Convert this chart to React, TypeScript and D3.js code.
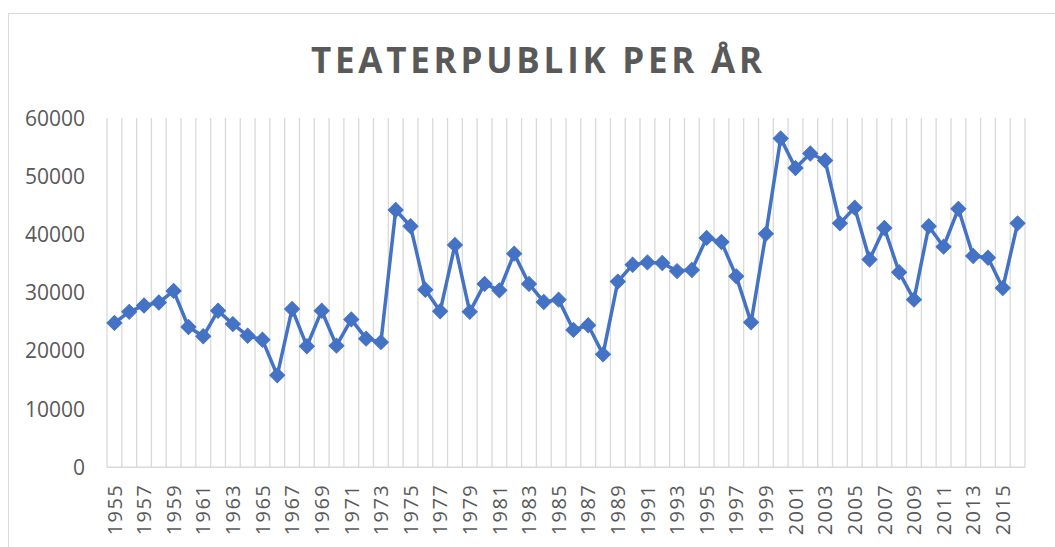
import React from "react";
import * as d3 from "d3";

const years: number[] = d3.range(1955, 2017);
const visitors: number[] = [
  24800, 26700, 27800, 28300, 30300, 24100, 22500, 26900, 24600, 22600,
  21900, 15800, 27200, 20800, 26900, 20900, 25400, 22100, 21500, 44200,
  41400, 30500, 26800, 38200, 26700, 31500, 30400, 36700, 31500, 28400,
  28800, 23600, 24400, 19400, 31900, 34800, 35200, 35100, 33700, 33900,
  39400, 38700, 32800, 24900, 40100, 56500, 51400, 53900, 52700, 41900,
  44600, 35700, 41100, 33500, 28800, 41400, 37900, 44400, 36300, 36000,
  30800, 41900,
];
const yTicks: number[] = [0, 10000, 20000, 30000, 40000, 50000, 60000];
const title = "TEATERPUBLIK PER ÅR";

export default function App() {
  const W = 1055;
  const H = 547;
  const left = 107;
  const right = 1025;
  const top = 118;
  const bottom = 467.3;

  const x = d3.scaleBand<number>().domain(years).range([left, right]).padding(0);
  const y = d3.scaleLinear().domain([0, 60000]).range([bottom, top]);
  const cx = (yr: number) => (x(yr) as number) + x.bandwidth() / 2;

  const line = d3
    .line<number>()
    .x((_, i) => cx(years[i]))
    .y((v) => y(v));

  const marker = d3.symbol().type(d3.symbolSquare).size(112)() as string;

  const boundaries = years.map((yr) => x(yr) as number).concat([right]);
  const font = "'Open Sans', 'DejaVu Sans', sans-serif";

  return (
    <svg
      width={W}
      height={H}
      style={{ position: "absolute", left: 0, top: 0, background: "#fff" }}
    >
      <rect x={8.5} y={13.5} width={1200} height={700} fill="#fff" stroke="#d9d9d9" strokeWidth={1} />
      <text
        x={536.5}
        y={73}
        textAnchor="middle"
        fontFamily={font}
        fontWeight={700}
        fontSize={35}
        fill="#595959"
        textLength={451}
        lengthAdjust="spacing"
      >
        {title}
      </text>

      {boundaries.map((bx, i) => (
        <line key={"g" + i} x1={bx} x2={bx} y1={top} y2={bottom} stroke="#d9d9d9" strokeWidth={1.3} />
      ))}
      <line x1={left} x2={right} y1={bottom} y2={bottom} stroke="#d9d9d9" strokeWidth={1.5} />

      {yTicks.map((t) => (
        <text
          key={"y" + t}
          x={85}
          y={y(t)}
          dy="0.36em"
          textAnchor="end"
          fontFamily={font}
          fontSize={21}
          fill="#595959"
        >
          {t}
        </text>
      ))}

      {years
        .filter((yr) => (yr - 1955) % 2 === 0)
        .map((yr) => (
          <text
            key={"x" + yr}
            transform={`translate(${cx(yr)},${bottom + 18}) rotate(-90)`}
            x={-50}
            dy="0.36em"
            textAnchor="start"
            fontFamily={font}
            fontSize={20}
            fill="#595959"
            textLength={50}
            lengthAdjust="spacing"
          >
            {yr}
          </text>
        ))}

      <path
        d={line(visitors) as string}
        fill="none"
        stroke="#4472C4"
        strokeWidth={3.5}
        strokeLinejoin="round"
        strokeLinecap="round"
      />
      {visitors.map((v, i) => (
        <path
          key={"m" + i}
          d={marker}
          transform={`translate(${cx(years[i])},${y(v)}) rotate(45)`}
          fill="#4472C4"
          stroke="#4472C4"
          strokeWidth={1}
        />
      ))}
    </svg>
  );
}
